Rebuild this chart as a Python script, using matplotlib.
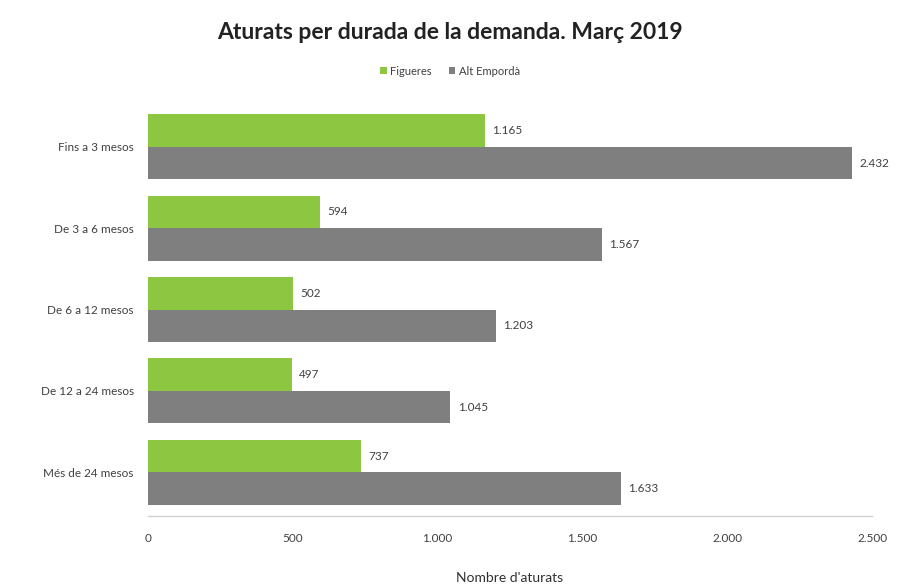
import matplotlib.pyplot as plt
import numpy as np

plt.rcParams['font.family'] = ['Lato', 'DejaVu Sans']

categories = ['Fins a 3 mesos', 'De 3 a 6 mesos', 'De 6 a 12 mesos',
              'De 12 a 24 mesos', 'Més de 24 mesos']
figueres = [1165, 594, 502, 497, 737]
alt_emporda = [2432, 1567, 1203, 1045, 1633]
series_names = ['Figueres', 'Alt Empordà']
xticks = [0, 500, 1000, 1500, 2000, 2500]

green = '#8dc641'
grey = '#7f7f7f'


def fmt(v):
    # catalan style thousands separator
    return '{:,}'.format(v).replace(',', '.')


fig = plt.figure(figsize=(9, 5.84), dpi=100)
ax = fig.add_axes([0.164, 0.116, 0.805, 0.705])

y = np.arange(len(categories))
h = 0.4
b1 = ax.barh(y - h / 2, figueres, height=h, color=green, label=series_names[0])
b2 = ax.barh(y + h / 2, alt_emporda, height=h, color=grey, label=series_names[1])

for bars, vals in ((b1, figueres), (b2, alt_emporda)):
    for bar, v in zip(bars, vals):
        ax.text(bar.get_width() + 25, bar.get_y() + bar.get_height() / 2, fmt(v),
                va='center', ha='left', fontsize=8.5, color='#404040')

ax.set_ylim(len(categories) - 1 + 0.54, -0.52)
ax.set_xlim(0, 2500)
ax.set_yticks(y)
ax.set_yticklabels(categories, fontsize=8.5, color='#404040')
ax.set_xticks(xticks)
ax.set_xticklabels([fmt(t) for t in xticks], fontsize=8.5, color='#404040')
ax.tick_params(length=0, pad=12)
ax.tick_params(axis='y', pad=10)

for s in ['top', 'right', 'left']:
    ax.spines[s].set_visible(False)
ax.spines['bottom'].set_color('#d0d0d0')
ax.spines['bottom'].set_linewidth(1.0)

ax.set_xlabel("Nombre d'aturats", fontsize=10, color='#303030', labelpad=20)

fig.text(0.5, 0.945, 'Aturats per durada de la demanda. Març 2019',
         ha='center', va='center', fontsize=16.5, fontweight='bold', color='#222222')
fig.legend(loc='center', bbox_to_anchor=(0.5, 0.878), ncol=2, frameon=False,
           fontsize=8, handlelength=0.6, handleheight=0.6, handletextpad=0.3,
           columnspacing=1.5, labelcolor='#404040')

fig.savefig('out.png', dpi=100, facecolor='white')
